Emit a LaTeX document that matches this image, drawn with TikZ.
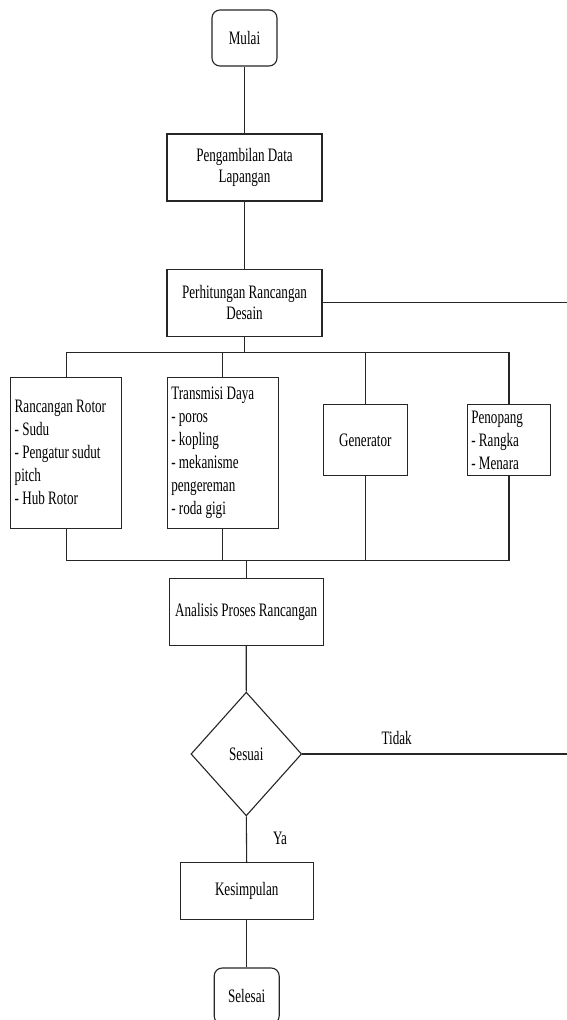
\documentclass[tikz,border=0pt]{standalone}
\usepackage{fontspec}
\setmainfont[FakeStretch=0.69]{Liberation Serif}
\usetikzlibrary{shapes.geometric}
\tikzset{
  ln/.style={draw=black!85, line width=1.1pt},
  box/.style={ln, rectangle, inner sep=0pt, align=center, font=\fontsize{19}{21}\selectfont},
  listbox/.style={ln, rectangle, inner sep=4pt, align=flush left, font=\fontsize{19}{23}\selectfont},
  term/.style={ln, rectangle, rounded corners=8pt, inner sep=0pt, font=\fontsize{19}{21}\selectfont, minimum width=65pt, minimum height=56pt},
  dec/.style={ln, diamond, inner sep=0pt, font=\fontsize{19}{21}\selectfont, minimum width=110.7pt, minimum height=123.7pt},
  lbl/.style={font=\fontsize{19}{21}\selectfont, inner sep=0pt},
  conn/.style={ln}
}
\begin{document}
\begin{tikzpicture}[x=1pt,y=-1pt]
\clip (0,0) rectangle (567,1020);
\fill[white] (0,0) rectangle (567,1020);
\node[term] (mulai) at (244.5,38) {Mulai};
\node[box, minimum width=155pt, minimum height=67pt] (ambil) at (244.5,167.5) {Pengambilan Data\\Lapangan};
\node[box, minimum width=155pt, minimum height=67pt] (hitung) at (244.5,302.7) {Perhitungan Rancangan\\Desain};
\node[listbox, minimum width=111pt, minimum height=151pt, text width=103pt] (rotor) at (66.2,452.8) {Rancangan Rotor\\- Sudu\\- Pengatur sudut\\pitch\\- Hub Rotor};
\node[listbox, minimum width=111pt, minimum height=151pt, text width=103pt] (trans) at (222.8,452.8) {Transmisi Daya\\- poros\\- kopling\\- mekanisme\\pengereman\\- roda gigi};
\node[box, minimum width=84pt, minimum height=71.5pt] (gen) at (365.3,440) {Generator};
\node[listbox, minimum width=83.4pt, minimum height=71.5pt, text width=75.4pt, inner sep=4pt] (penopang) at (509,440) {Penopang\\- Rangka\\- Menara};
\node[box, minimum width=154.3pt, minimum height=66.7pt] (analisis) at (246.2,611.7) {Analisis Proses Rancangan};
\node[dec] (sesuai) at (246.3,754) {Sesuai};
\node[box, minimum width=133.3pt, minimum height=56.7pt] (kesim) at (246.7,890.7) {Kesimpulan};
\node[term] (selesai) at (246.7,996) {Selesai};
\node[lbl] (tidak) at (396.7,738) {Tidak};
\node[lbl] (ya) at (280,838) {Ya};
\coordinate (rEdge1) at (567,302.7);
\coordinate (rEdge2) at (567,754);
\coordinate (busTop) at (244.5,352.7);
\coordinate (busBot) at (246.2,560.7);
\draw[conn] (mulai.south) -- (ambil.north);
\draw[conn] (ambil.south) -- (hitung.north);
\draw[conn] (hitung.east) -- (rEdge1);
\draw[conn] (hitung.south) -- (busTop);
\draw[conn] (rotor.north) -- (rotor.north |- busTop) -- (penopang.north |- busTop) -- (penopang.north);
\draw[conn] (trans.north |- busTop) -- (trans.north);
\draw[conn] (gen.north |- busTop) -- (gen.north);
\draw[conn] (rotor.south) -- (rotor.south |- busBot) -- (penopang.south |- busBot) -- (penopang.south);
\draw[conn] (trans.south) -- (trans.south |- busBot);
\draw[conn] (gen.south) -- (gen.south |- busBot);
\draw[conn] (busBot) -- (analisis.north);
\draw[conn] (analisis.south) -- (sesuai.north);
\draw[conn] (sesuai.east) -- (rEdge2);
\draw[conn] (sesuai.south) -- (kesim.north);
\draw[conn] (kesim.south) -- (selesai.north);
\end{tikzpicture}
\end{document}
